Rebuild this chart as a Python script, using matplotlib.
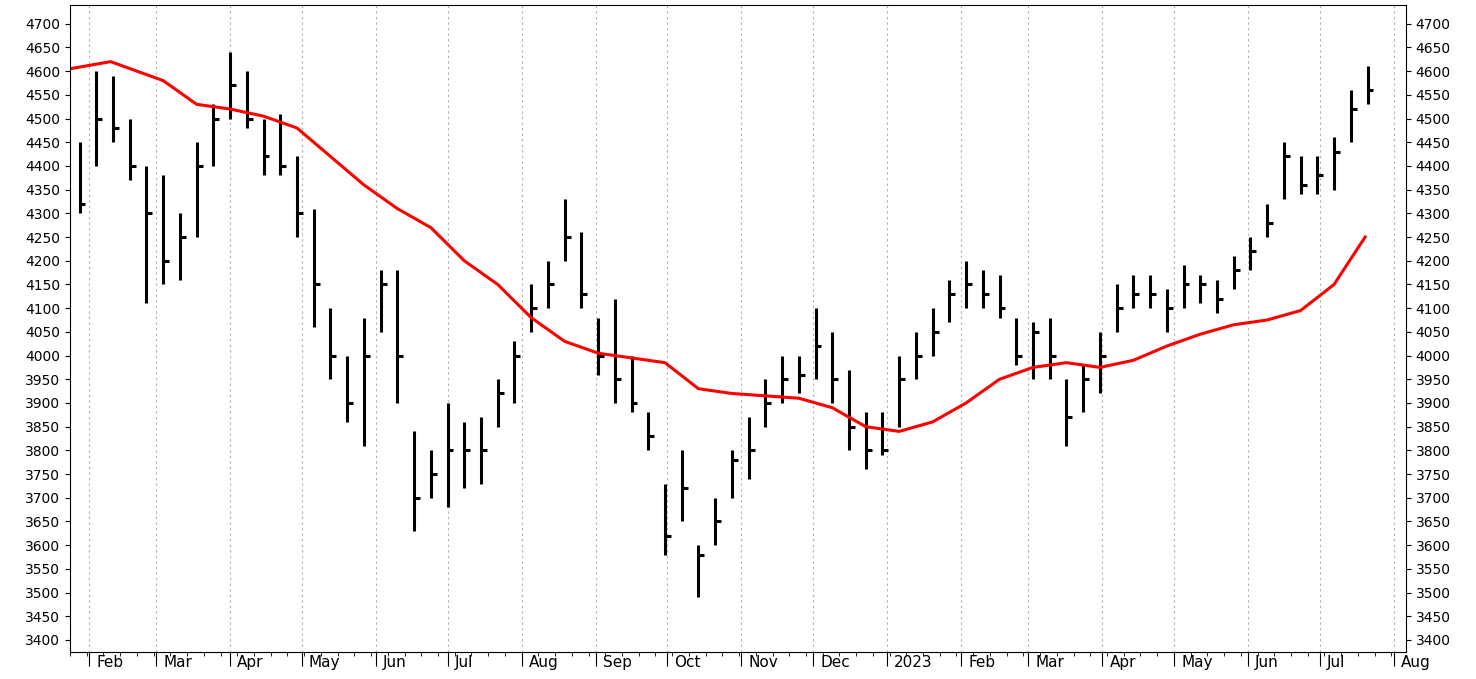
import matplotlib
matplotlib.use("Agg")
import matplotlib.pyplot as plt
import matplotlib.dates as mdates
import pandas as pd

# weekly bars (week ending Friday)
weeks = pd.date_range("2022-01-28", "2023-07-21", freq="W-FRI")
highs = [4450, 4600, 4590, 4500, 4400, 4380, 4300, 4450, 4530, 4640, 4600, 4500, 4510, 4420,
         4310, 4100, 4000, 4080, 4180, 4180, 3840, 3800, 3900, 3860, 3870, 3950, 4030, 4150,
         4200, 4330, 4260, 4080, 4120, 4000, 3880, 3730, 3800, 3600, 3700, 3800, 3870, 3950,
         4000, 4000, 4100, 4050, 3970, 3880, 3880, 4000, 4050, 4100, 4160, 4200, 4180, 4170,
         4080, 4070, 4080, 3950, 3980, 4050, 4150, 4170, 4170, 4140, 4190, 4170, 4160, 4210,
         4250, 4320, 4450, 4420, 4420, 4460, 4560, 4610]
lows = [4300, 4400, 4450, 4370, 4110, 4150, 4160, 4250, 4400, 4500, 4480, 4380, 4380, 4250,
        4060, 3950, 3860, 3810, 4050, 3900, 3630, 3700, 3680, 3720, 3730, 3850, 3900, 4050,
        4100, 4200, 4100, 3960, 3900, 3880, 3800, 3580, 3650, 3490, 3600, 3700, 3740, 3850,
        3900, 3920, 3950, 3900, 3800, 3760, 3790, 3850, 3950, 4000, 4070, 4100, 4100, 4080,
        3980, 3950, 3950, 3810, 3880, 3920, 4050, 4100, 4100, 4050, 4100, 4110, 4090, 4140,
        4180, 4250, 4330, 4340, 4340, 4350, 4450, 4530]
closes = [4320, 4500, 4480, 4400, 4300, 4200, 4250, 4400, 4500, 4570, 4500, 4420, 4400, 4300,
          4150, 4000, 3900, 4000, 4150, 4000, 3700, 3750, 3800, 3800, 3800, 3920, 4000, 4100,
          4150, 4250, 4130, 4000, 3950, 3900, 3830, 3620, 3720, 3580, 3650, 3780, 3800, 3900,
          3950, 3960, 4020, 3950, 3850, 3800, 3800, 3950, 4000, 4050, 4130, 4150, 4130, 4100,
          4000, 4050, 4000, 3870, 3950, 4000, 4100, 4130, 4130, 4100, 4150, 4150, 4120, 4180,
          4220, 4280, 4420, 4360, 4380, 4430, 4520, 4560]

# 200-day moving average
ma_dates = pd.to_datetime([
    "2022-01-24", "2022-02-10", "2022-03-04", "2022-03-18", "2022-04-01", "2022-04-15",
    "2022-04-29", "2022-05-13", "2022-05-27", "2022-06-10", "2022-06-24", "2022-07-08",
    "2022-07-22", "2022-08-05", "2022-08-19", "2022-09-02", "2022-09-16", "2022-09-30",
    "2022-10-14", "2022-10-28", "2022-11-11", "2022-11-25", "2022-12-09", "2022-12-23",
    "2023-01-06", "2023-01-20", "2023-02-03", "2023-02-17", "2023-03-03", "2023-03-17",
    "2023-03-31", "2023-04-14", "2023-04-28", "2023-05-12", "2023-05-26", "2023-06-09",
    "2023-06-23", "2023-07-07", "2023-07-20"])
ma_vals = [4605, 4620, 4580, 4530, 4520, 4505, 4480, 4420, 4360, 4310, 4270, 4200,
           4150, 4080, 4030, 4005, 3995, 3985, 3930, 3920, 3915, 3910, 3890, 3850,
           3840, 3860, 3900, 3950, 3975, 3985, 3975, 3990, 4020, 4045, 4065, 4075,
           4095, 4150, 4250]

months = pd.date_range("2022-02-01", "2023-08-01", freq="MS")
month_labels = ["2023" if m.month == 1 else m.strftime("%b") for m in months]

fig = plt.figure(figsize=(14.76, 6.79), dpi=100)
ax = fig.add_axes([0.0474, 0.04, 0.905, 0.953])

x = mdates.date2num(weeks)
ax.vlines(x, lows, highs, color="black", linewidth=2.2)
ax.hlines(closes, x, x + 2.5, color="black", linewidth=2.2)
ax.plot(ma_dates, ma_vals, color="#ff0000", linewidth=2.2)

ax.set_xlim(mdates.date2num(pd.Timestamp("2022-01-24")), mdates.date2num(pd.Timestamp("2023-08-06")))
ax.set_ylim(3375, 4740)
ax.set_yticks(range(3400, 4701, 50))
ax.tick_params(axis="y", which="both", left=True, right=True, labelleft=True, labelright=True,
               labelsize=10, direction="out")
ax.set_xticks(mdates.date2num(months))
ax.set_xticklabels([])
ax.xaxis.set_minor_locator(mdates.WeekdayLocator(byweekday=mdates.MO))
ax.tick_params(axis="x", which="major", length=10)
ax.tick_params(axis="x", which="minor", length=3)
ax.grid(axis="x", which="major", color="#b0b0b0", linestyle=(0, (2, 3)), linewidth=0.8)
for m, lab in zip(months, month_labels):
    ax.text(mdates.date2num(m) + 3, -0.005, lab, transform=ax.get_xaxis_transform(),
            ha="left", va="top", fontsize=11, clip_on=False)

fig.savefig("out.png", dpi=100, facecolor="white")
